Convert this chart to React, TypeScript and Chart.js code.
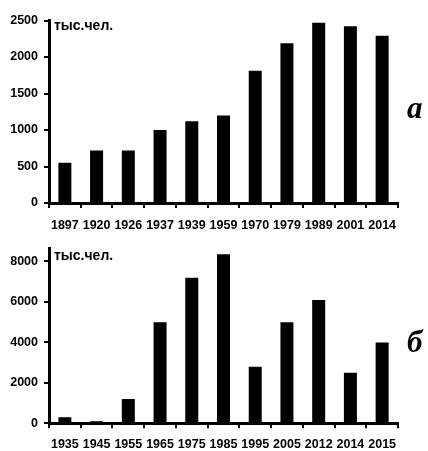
import React, { useEffect, useRef } from "react";
import { Chart, registerables } from "chart.js";

Chart.register(...registerables);

const yearsA = ["1897", "1920", "1926", "1937", "1939", "1959", "1970", "1979", "1989", "2001", "2014"];
const valuesA = [550, 720, 720, 1000, 1120, 1200, 1810, 2190, 2470, 2420, 2290];
const yTicksA = [0, 500, 1000, 1500, 2000, 2500];

const yearsB = ["1935", "1945", "1955", "1965", "1975", "1985", "1995", "2005", "2012", "2014", "2015"];
const valuesB = [300, 100, 1200, 5000, 7200, 8350, 2800, 5000, 6100, 2500, 4000];
const yTicksB = [0, 2000, 4000, 6000, 8000];

const unitLabel = "тыс.чел.";

const xFont = { family: "'Liberation Sans', Arial, sans-serif", size: 12.5, weight: "bold" as const };
const yFont = { family: "'Liberation Sans', Arial, sans-serif", size: 12.5, weight: "bold" as const };

function makeChart(
  canvas: HTMLCanvasElement,
  labels: string[],
  values: number[],
  yMax: number,
  yTicks: number[],
  padTop: number,
  xHeight: number,
  xPad: number
) {
  return new Chart(canvas, {
    type: "bar",
    data: {
      labels,
      datasets: [
        {
          data: values,
          backgroundColor: "#000",
          borderWidth: 0,
          barPercentage: 0.41,
          categoryPercentage: 1,
        },
      ],
    },
    options: {
      animation: false,
      responsive: false,
      maintainAspectRatio: false,
      layout: { padding: { top: padTop, right: 30, left: 0, bottom: 0 } },
      plugins: { legend: { display: false }, tooltip: { enabled: false } },
      scales: {
        x: {
          grid: {
            display: true,
            drawOnChartArea: false,
            drawTicks: true,
            tickLength: 5,
            color: "#000",
            lineWidth: 2,
            offset: true,
          },
          border: { display: true, color: "#000", width: 3 },
          ticks: { color: "#000", font: xFont, padding: xPad, maxRotation: 0, minRotation: 0, autoSkip: false },
          afterFit: (s: any) => {
            s.height = xHeight;
          },
        },
        y: {
          min: 0,
          max: yMax,
          grid: {
            display: true,
            drawOnChartArea: false,
            drawTicks: true,
            tickLength: 5,
            color: "#000",
            lineWidth: 2,
          },
          border: { display: true, color: "#000", width: 3 },
          ticks: {
            color: "#000",
            font: yFont,
            padding: 6,
            autoSkip: false,
            callback: (v: any) => String(v),
          },
          afterBuildTicks: (s: any) => {
            s.ticks = yTicks.map((v) => ({ value: v }));
          },
          afterFit: (s: any) => {
            s.width = 49;
          },
        },
      },
    },
  });
}

const labelStyle: React.CSSProperties = {
  position: "absolute",
  fontFamily: "'Liberation Sans', Arial, sans-serif",
  fontWeight: "bold",
  fontSize: 14,
  color: "#000",
  lineHeight: "16px",
  whiteSpace: "nowrap",
};

const letterStyle: React.CSSProperties = {
  position: "absolute",
  fontFamily: "'Liberation Serif', 'Times New Roman', serif",
  fontWeight: "bold",
  fontStyle: "italic",
  fontSize: 31,
  color: "#000",
  lineHeight: "32px",
};

export default function App() {
  const refA = useRef<HTMLCanvasElement>(null);
  const refB = useRef<HTMLCanvasElement>(null);

  useEffect(() => {
    const a = makeChart(refA.current!, yearsA, valuesA, 2500, yTicksA, 20.5, 29, 10.5);
    const b = makeChart(refB.current!, yearsB, valuesB, 8650, yTicksB, 16.3, 27.7, 8.5);
    return () => {
      a.destroy();
      b.destroy();
    };
  }, []);

  return (
    <div style={{ position: "fixed", left: 0, top: 0, width: 428, height: 451, background: "#fff" }}>
      <canvas ref={refA} width={428} height={232} style={{ position: "absolute", left: 0, top: 0 }} />
      <canvas ref={refB} width={428} height={219} style={{ position: "absolute", left: 0, top: 232 }} />
      <div style={{ ...labelStyle, left: 54, top: 17 }}>{unitLabel}</div>
      <div style={{ ...labelStyle, left: 54, top: 247 }}>{unitLabel}</div>
      <div style={{ ...letterStyle, left: 407, top: 92 }}>а</div>
      <div style={{ ...letterStyle, left: 407, top: 326 }}>б</div>
    </div>
  );
}
